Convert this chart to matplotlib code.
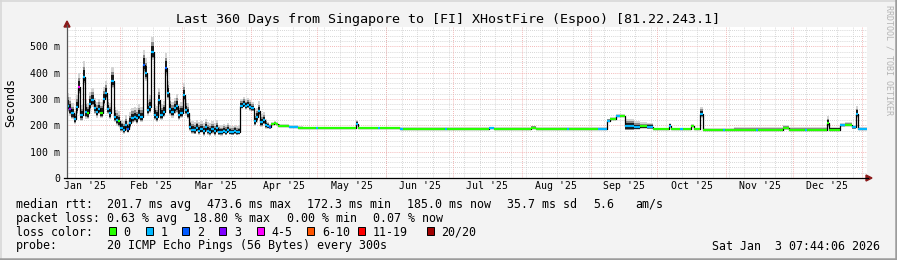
import datetime as dt
import matplotlib
matplotlib.use('Agg')
import matplotlib.pyplot as plt
import matplotlib.dates as mdates
from matplotlib.lines import Line2D
from matplotlib.patches import Polygon, Rectangle

W, H = 897, 260
MONO = 'DejaVu Sans Mono'

title = "Last 360 Days from Singapore to [FI] XHostFire (Espoo) [81.22.243.1]"
t_start = dt.datetime(2025, 1, 8, 7, 44, 6)
t_end = dt.datetime(2026, 1, 3, 7, 44, 6)

# Jan 8 .. Apr 12: one value per day (median ms, smoke spread ms, lost pings)
daily_ms = [275, 262, 245, 222, 268, 345, 238, 385, 250, 245,
            280, 295, 265, 250, 262, 248, 300, 322, 262, 245,
            368, 232, 220, 215, 190, 184, 200, 186, 210, 228,
            232, 226, 240, 232, 430, 400, 258, 270, 478, 240,
            233, 296, 240, 252, 418, 322, 262, 250, 265, 272,
            240, 248, 315, 258, 245, 194, 184, 182, 190, 180,
            186, 178, 192, 180, 176, 185, 178, 188, 176, 174,
            180, 176, 184, 176, 174, 178, 174, 176, 275, 282,
            272, 278, 270, 265, 215, 230, 255, 212, 220, 200,
            196, 192, 205, 207, 205, 198]
daily_smoke = [18, 18, 15, 12, 18, 20, 15, 22, 18, 15,
               18, 18, 15, 15, 15, 15, 18, 18, 15, 15,
               20, 15, 15, 15, 12, 12, 15, 12, 15, 15,
               15, 15, 15, 15, 22, 22, 15, 18, 22, 15,
               15, 18, 15, 15, 22, 18, 18, 15, 15, 18,
               15, 15, 18, 15, 15, 12, 12, 12, 12, 12,
               12, 12, 12, 12, 12, 12, 12, 12, 10, 10,
               10, 10, 10, 9, 9, 9, 9, 9, 10, 10,
               10, 10, 10, 9, 12, 14, 14, 12, 12, 9,
               7, 5, 3, 3, 3, 3]
daily_loss = [1, 3, 1, 1, 1, 4, 1, 1, 1, 0,
              1, 1, 1, 1, 1, 0, 1, 1, 1, 1,
              1, 1, 1, 0, 1, 1, 1, 2, 1, 1,
              1, 1, 1, 1, 2, 1, 1, 1, 1, 1,
              1, 1, 1, 1, 2, 1, 1, 1, 1, 1,
              1, 1, 1, 1, 1, 1, 1, 1, 1, 1,
              1, 1, 1, 1, 1, 1, 1, 1, 1, 1,
              1, 1, 1, 1, 1, 1, 1, 1, 1, 1,
              1, 1, 1, 1, 1, 1, 1, 1, 1, 1,
              1, 2, 0, 0, 0, 0]

# from mid April the line is flat, so only the changes (day after start)
step_day = [96, 100, 104, 106, 112, 113, 130, 131, 140, 141,
            150, 151, 170, 171, 190, 192, 209, 211, 225, 226,
            239, 243, 244.5, 247, 249, 251, 255, 258, 261, 263.5,
            271, 272, 276, 277, 281, 282, 285, 286, 295, 296,
            300, 310, 311, 322, 325, 332, 333, 342, 343, 348,
            350, 353.3, 355, 356]
step_ms = [197, 195, 191, 188, 188, 188, 206, 188, 188, 188,
           187, 187, 187, 187, 188, 187, 191, 187, 187, 187,
           187, 217, 224, 235, 235, 196, 194, 196, 193, 185,
           199, 185, 185, 185, 196, 185, 243, 184, 184, 184,
           184, 183, 183, 189, 183, 183, 183, 208, 184, 200,
           202, 192, 243, 185]
step_smoke = [3, 2, 2, 2, 2, 2, 5, 2, 2, 2,
              2, 2, 2, 2, 2, 2, 3, 2, 2, 2,
              2, 3, 3, 3, 3, 11, 8, 6, 6, 2,
              4, 2, 2, 2, 3, 2, 10, 2, 2, 2,
              3, 4, 4, 4, 4, 4, 4, 10, 4, 4,
              4, 4, 12, 3]
step_loss = [0, 1, 0, 0, 1, 0, 1, 0, 1, 0,
             1, 0, 1, 0, 1, 0, 0, 0, 1, 0,
             1, 1, 0, 1, 0, 1, 1, 0, 1, 0,
             1, 0, 1, 0, 0, 0, 1, 0, 1, 0,
             0, 1, 0, 0, 0, 1, 0, 0, 0, 1,
             0, 1, 1, 1]

loss_labels = ['0', '1', '2', '3', '4-5', '6-10', '11-19', '20/20']
loss_colors = ['#26ff00', '#00b8ff', '#0059ff', '#7e00ff',
               '#ff00ff', '#ff5500', '#ff0000', '#a10000']
loss_upper = [0, 1, 2, 3, 5, 10, 19, 20]

y_ticks = [0, 100, 200, 300, 400, 500]
y_labels = ['0', '100 m', '200 m', '300 m', '400 m', '500 m']

rtt_fields = [(16, 'median rtt:'), (107.3, '201.7 ms avg'), (207.3, '473.6 ms max'),
              (307.3, '172.3 ms min'), (406.7, '185.0 ms now'), (507.3, '35.7 ms sd'),
              (593.3, '5.6'), (635, 'am/s')]
pl_fields = [(16, 'packet loss:'), (107.3, '0.63 % avg'), (192.7, '18.80 % max'),
             (287.3, '0.00 % min'), (372.7, '0.07 % now')]
probe_text = '20 ICMP Echo Pings (56 Bytes) every 300s'
stamp = 'Sat Jan  3 07:44:06 2026'
box_x = [108.7, 145.7, 182.3, 219.3, 256.7, 307.3, 358.3, 426.7]


def fx(x):
    return x / W


def fy(y):
    return 1 - y / H


def loss_color(n):
    for up, c in zip(loss_upper, loss_colors):
        if n <= up:
            return c
    return loss_colors[-1]


fig = plt.figure(figsize=(W / 100, H / 100), dpi=100, facecolor='#f3f3f3')
ax = fig.add_axes([fx(67), fy(178), fx(867) - fx(67), fy(27) - fy(178)])
ax.set_facecolor('white')
for s in ax.spines.values():
    s.set_visible(False)

ax.set_xlim(mdates.date2num(t_start), mdates.date2num(t_end))
ax.set_ylim(0, 573)

# grid: weekly (sundays) grey, month starts red
dotted = (0, (1, 1.5))
d = dt.datetime(2025, 1, 12)
while d < t_end:
    ax.axvline(mdates.date2num(d), color='#cacaca', lw=0.6, ls=dotted, zorder=0.5)
    d += dt.timedelta(days=7)
for v in range(20, 573, 20):
    if v % 100:
        ax.axhline(v, color='#cacaca', lw=0.6, ls=dotted, zorder=0.5)
months = [dt.datetime(2025 + (m // 12), m % 12 + 1, 1) for m in range(1, 13)]
for m in months:
    ax.axvline(mdates.date2num(m), color='#f0a0a0', lw=0.6, ls=dotted, zorder=0.6)
for v in y_ticks[1:]:
    ax.axhline(v, color='#f0a0a0', lw=0.6, ls=dotted, zorder=0.6)

# data
days = list(range(len(daily_ms))) + step_day
med = daily_ms + step_ms
smoke = daily_smoke + step_smoke
loss = daily_loss + step_loss

edges = [t_start + dt.timedelta(days=x) for x in days] + [t_end]
xe = mdates.date2num(edges)
med_e = med + [med[-1]]
smoke_e = smoke + [smoke[-1]]
for lo_k, hi_k, col in [(1.4, 2.6, '#d4d4d4'), (1.1, 1.7, '#8a8a8a'), (0.8, 1.1, '#1a1a1a')]:
    lo = [m - lo_k * s for m, s in zip(med_e, smoke_e)]
    hi = [m + hi_k * s for m, s in zip(med_e, smoke_e)]
    ax.fill_between(xe, lo, hi, step='post', color=col, lw=0, zorder=2)
ax.step(xe, med_e, where='post', color='black', lw=0.9, zorder=3)
ax.hlines(med, xe[:-1], xe[1:], colors=[loss_color(n) for n in loss], lw=1.6, zorder=4)

# ticks
mids = []
for m in range(12):
    a = dt.datetime(2025, m + 1, 1)
    b = dt.datetime(2025 + (m + 1) // 12, (m + 1) % 12 + 1, 1)
    mids.append(a + (b - a) / 2)
ax.set_xticks(mdates.date2num(mids))
ax.set_xticklabels([x.strftime("%b '%y") for x in mids], family=MONO, fontsize=7.1)
ax.set_yticks(y_ticks)
ax.set_yticklabels(y_labels, family=MONO, fontsize=7.1)
ax.tick_params(axis='x', length=0, pad=2.5)
ax.tick_params(axis='y', length=0, pad=5)

# axis lines with arrows
fig.add_artist(Line2D([fx(67), fx(67)], [fy(178), fy(25)], color='#555555', lw=0.9))
fig.add_artist(Line2D([fx(64), fx(868)], [fy(178), fy(178)], color='black', lw=0.9))
fig.add_artist(Polygon([(fx(64), fy(27)), (fx(70), fy(27)), (fx(67), fy(21))],
                       closed=True, color='#8b1a1a', transform=fig.transFigure))
fig.add_artist(Polygon([(fx(866), fy(175)), (fx(866), fy(181)), (fx(872), fy(178))],
                       closed=True, color='#8b1a1a', transform=fig.transFigure))

# texts
fig.text(fx(447.5), fy(19.3), title, family=MONO, fontsize=9.6, ha='center', va='center')
fig.text(fx(11), fy(102.5), 'Seconds', family=MONO, fontsize=8.4, rotation=90,
         ha='center', va='center')
fig.text(fx(889), fy(60), 'RRDTOOL / TOBI OETIKER', family=MONO, fontsize=6,
         rotation=270, ha='center', va='center', color='#b4b4b4')

for x, s in rtt_fields:
    fig.text(fx(x), fy(204.3), s, family=MONO, fontsize=8.4, va='center')
for x, s in pl_fields:
    fig.text(fx(x), fy(218.3), s, family=MONO, fontsize=8.4, va='center')
fig.text(fx(16), fy(232.3), 'loss color:', family=MONO, fontsize=8.4, va='center')
for x, lab, col in zip(box_x, loss_labels, loss_colors):
    fig.add_artist(Rectangle((fx(x), fy(234.7)), 7 / W, 8 / H, facecolor=col,
                             edgecolor='black', lw=0.7, transform=fig.transFigure))
    fig.text(fx(x + 14.5), fy(232.3), lab, family=MONO, fontsize=8.4, va='center')
fig.text(fx(16), fy(246), 'probe:', family=MONO, fontsize=8.4, va='center')
fig.text(fx(107.3), fy(246), probe_text, family=MONO, fontsize=8.4, va='center')
fig.text(fx(880), fy(246), stamp, family=MONO, fontsize=8.4, va='center', ha='right')

# 3d frame
fig.add_artist(Line2D([0, 1], [fy(0.5), fy(0.5)], color='#d8d8d8', lw=1.2))
fig.add_artist(Line2D([fx(0.5), fx(0.5)], [0, 1], color='#d8d8d8', lw=1.2))
fig.add_artist(Line2D([0, 1], [fy(258.8), fy(258.8)], color='#9c9c9c', lw=1.8))
fig.add_artist(Line2D([fx(895.8), fx(895.8)], [0, 1], color='#9c9c9c', lw=1.8))

fig.savefig('out.png', dpi=100, facecolor=fig.get_facecolor())
